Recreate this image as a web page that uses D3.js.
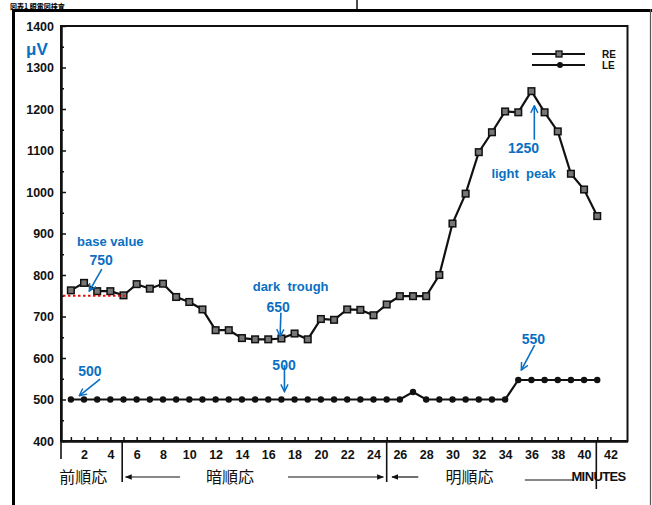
<!DOCTYPE html>
<html lang="ja">
<head>
<meta charset="UTF-8">
<title>EOG light / dark response</title>
<script src="https://cdnjs.cloudflare.com/ajax/libs/d3/7.8.5/d3.min.js"></script>
<style>
    body { margin: 0; background: #fff; }
    svg { display: block; }
    .tick text { font-family: "Liberation Sans Narrow", "Arial Narrow", Arial, sans-serif; font-weight: bold; font-size: 12.5px; fill: #111; }
    .note { font-family: "Liberation Sans", Arial, sans-serif; font-weight: bold; fill: #0a6fc2; }
    .phase { font-family: "Noto Sans CJK JP", sans-serif; font-size: 16px; fill: #111; }
    .legend { font-family: "Liberation Sans Narrow", Arial, sans-serif; font-weight: bold; font-size: 10px; fill: #111; }
</style>
</head>
<body>
<div id="chart"></div>
<script>
// data (minutes 1..41, microvolts)
const minutes = d3.range(1, 42);
const reValues = [763, 781, 761, 761, 751, 778, 767, 779, 747, 735,
                  717, 667, 667, 648, 645, 645, 647, 659, 645, 694,
                  692, 717, 716, 703, 729, 749, 749, 749, 800, 924,
                  996, 1096, 1144, 1194, 1192, 1243, 1192, 1146, 1044, 1006, 942];
const leValues = [500, 500, 500, 500, 500, 500, 500, 500, 500, 500,
                  500, 500, 500, 500, 500, 500, 500, 500, 500, 500,
                  500, 500, 500, 500, 500, 500, 518, 500, 500, 500,
                  500, 500, 500, 500, 547, 547, 547, 547, 547, 547, 547];
const yTicks = d3.range(400, 1401, 100);
const yMinorTicks = d3.range(450, 1400, 100);
const xTickLabels = d3.range(2, 43, 2);
const seriesNames = ["RE", "LE"];

// blue notes: [text, minute, value, size]
const notes = [
    ["base value", 4.0, 869, 13],
    ["750", 3.3, 823, 14],
    ["500", 2.45, 556, 14],
    ["dark  trough", 17.7, 761, 13],
    ["650", 16.75, 710, 14],
    ["500", 17.2, 571, 14],
    ["550", 36.15, 633, 14],
    ["1250", 35.4, 1093, 14],
    ["light  peak", 35.4, 1033, 13]
];
const noteArrows = [
    [[3.35, 814], [2.4, 761]],
    [[3.22, 549], [1.64, 509]],
    [[16.96, 709], [16.9, 652]],
    [[17.23, 583], [17.23, 519]],
    [[36.24, 631], [35.23, 571]],
    [[36.22, 1126], [36.22, 1208]]
];
const baseLine = { from: 0.4, to: 5.1, value: 750 };

// phases below the axis
const phaseLabels = [["前順応", 1.95], ["暗順応", 13.1], ["明順応", 31.3]];
const phaseDividers = [4.9, 25.0, 40.93];
const phaseArrows = [[9.3, 5.15], [17.5, 24.75], [27.4, 25.4], [39.2, 35.5]];

const width = 652, height = 505;
const svg = d3.select("#chart").append("svg")
    .attr("width", width)
    .attr("height", height);

const x = d3.scaleLinear().domain([0.25, 43.3]).range([61, 627.5]);
const y = d3.scaleLinear().domain([400, 1400]).range([441, 26]);

// page frame (scanned sheet)
svg.append("text")
    .attr("x", 10).attr("y", 8.5)
    .attr("font-family", "Noto Sans CJK JP").attr("font-weight", "bold").attr("font-size", 7)
    .text("図表1  眼電図検査");
svg.append("line").attr("x1", 357).attr("x2", 357).attr("y1", 0).attr("y2", 9)
    .attr("stroke", "#111").attr("stroke-width", 1.5);
svg.append("line").attr("x1", 12).attr("x2", 652).attr("y1", 10.5).attr("y2", 10.5)
    .attr("stroke", "#000").attr("stroke-width", 3);
svg.append("line").attr("x1", 13.5).attr("x2", 13.5).attr("y1", 9).attr("y2", 505)
    .attr("stroke", "#000").attr("stroke-width", 3);
svg.append("line").attr("x1", 650.5).attr("x2", 650.5).attr("y1", 9).attr("y2", 505)
    .attr("stroke", "#555").attr("stroke-width", 1.2);

// plot frame
svg.append("rect")
    .attr("x", x.range()[0]).attr("y", y.range()[1])
    .attr("width", x.range()[1] - x.range()[0])
    .attr("height", y.range()[0] - y.range()[1])
    .attr("fill", "none").attr("stroke", "#111").attr("stroke-width", 2);

// y axis
svg.append("g")
    .attr("transform", `translate(${x.range()[0]},0)`)
    .call(d3.axisLeft(y).tickValues(yTicks).tickFormat(d3.format("d"))
        .tickSizeInner(-5).tickSizeOuter(0).tickPadding(7));
svg.append("g")
    .attr("transform", `translate(${x.range()[0]},0)`)
    .call(d3.axisLeft(y).tickValues(yMinorTicks).tickSizeInner(-3).tickSizeOuter(0).tickFormat(""));

// x axis
svg.append("g")
    .attr("transform", `translate(0,${y.range()[0]})`)
    .call(d3.axisBottom(x).tickValues(d3.range(1, 43)).tickSizeInner(-4).tickSizeOuter(0).tickFormat(""));
svg.append("g")
    .attr("transform", `translate(0,${y.range()[0]})`)
    .call(d3.axisBottom(x).tickValues(xTickLabels).tickSize(0).tickPadding(9).tickFormat(d3.format("d")));

svg.selectAll(".domain").attr("stroke", "#111").attr("stroke-width", 2);
svg.selectAll(".tick line").attr("stroke", "#111").attr("stroke-width", 1.5);

// white box behind the peak note
svg.append("rect")
    .attr("x", x(32.2)).attr("y", y(1100))
    .attr("width", x(38.75) - x(32.2)).attr("height", y(1047) - y(1100))
    .attr("fill", "#fff");

const line = d3.line().x((d, i) => x(minutes[i])).y(d => y(d));

svg.append("path").datum(leValues)
    .attr("d", line).attr("fill", "none").attr("stroke", "#111").attr("stroke-width", 2.2);
svg.append("path").datum(reValues)
    .attr("d", line).attr("fill", "none").attr("stroke", "#111").attr("stroke-width", 2.2);

svg.selectAll(".le-dot").data(leValues).join("circle")
    .attr("class", "le-dot")
    .attr("cx", (d, i) => x(minutes[i])).attr("cy", d => y(d))
    .attr("r", 3.2).attr("fill", "#111");

svg.selectAll(".re-sq").data(reValues).join("rect")
    .attr("class", "re-sq")
    .attr("x", (d, i) => x(minutes[i]) - 3.3).attr("y", d => y(d) - 3.3)
    .attr("width", 6.6).attr("height", 6.6)
    .attr("fill", "#777").attr("stroke", "#111").attr("stroke-width", 1.5);

// legend
const legend = svg.append("g");
seriesNames.forEach((name, i) => {
    const ly = 54 + i * 11;
    legend.append("line").attr("x1", 532).attr("x2", 585).attr("y1", ly).attr("y2", ly)
        .attr("stroke", "#111").attr("stroke-width", 1.8);
    if (i === 0) {
        legend.append("rect").attr("x", 556).attr("y", ly - 3).attr("width", 6).attr("height", 6)
            .attr("fill", "#777").attr("stroke", "#111").attr("stroke-width", 1.3);
    } else {
        legend.append("circle").attr("cx", 560).attr("cy", ly).attr("r", 3).attr("fill", "#111");
    }
    legend.append("text").attr("class", "legend").attr("x", 602).attr("y", ly + 4).text(name);
});

// unit
svg.append("text").attr("class", "note")
    .attr("x", 26).attr("y", 55).attr("font-size", 17)
    .text("μV");

// blue notes
const blue = "#0a6fc2";
const defs = svg.append("defs");
defs.append("marker")
    .attr("id", "blueHead").attr("viewBox", "0 0 10 10")
    .attr("refX", 9).attr("refY", 5)
    .attr("markerWidth", 9).attr("markerHeight", 9)
    .attr("markerUnits", "userSpaceOnUse")
    .attr("orient", "auto")
    .append("path").attr("d", "M1,1 L9,5 L1,9")
    .attr("fill", "none").attr("stroke", blue).attr("stroke-width", 1.6);
defs.append("marker")
    .attr("id", "blackHead").attr("viewBox", "0 0 10 10")
    .attr("refX", 9).attr("refY", 5)
    .attr("markerWidth", 7).attr("markerHeight", 7)
    .attr("markerUnits", "userSpaceOnUse")
    .attr("orient", "auto")
    .append("path").attr("d", "M0,1 L10,5 L0,9 Z").attr("fill", "#111");

svg.append("line")
    .attr("x1", x(baseLine.from)).attr("x2", x(baseLine.to))
    .attr("y1", y(baseLine.value)).attr("y2", y(baseLine.value))
    .attr("stroke", "#e01010").attr("stroke-width", 2.2).attr("stroke-dasharray", "2.5,2.5");

svg.selectAll(".note-text").data(notes).join("text")
    .attr("class", "note note-text")
    .attr("x", d => x(d[1])).attr("y", d => y(d[2]))
    .attr("text-anchor", "middle")
    .attr("font-size", d => d[3])
    .style("white-space", "pre")
    .text(d => d[0]);

svg.selectAll(".note-arrow").data(noteArrows).join("line")
    .attr("class", "note-arrow")
    .attr("x1", d => x(d[0][0])).attr("y1", d => y(d[0][1]))
    .attr("x2", d => x(d[1][0])).attr("y2", d => y(d[1][1]))
    .attr("stroke", blue).attr("stroke-width", 1.6)
    .attr("marker-end", "url(#blueHead)");

// phases under the axis
const axisY = y.range()[0];
svg.append("line")
    .attr("x1", x.range()[0]).attr("x2", x.range()[0])
    .attr("y1", axisY).attr("y2", axisY + 18)
    .attr("stroke", "#111").attr("stroke-width", 1.6);
phaseDividers.forEach((m, i) => {
    svg.append("line")
        .attr("x1", x(m)).attr("x2", x(m))
        .attr("y1", axisY).attr("y2", i === 2 ? axisY + 48 : axisY + 41)
        .attr("stroke", "#111").attr("stroke-width", 1.6);
});
svg.selectAll(".phase").data(phaseLabels).join("text")
    .attr("class", "phase")
    .attr("x", d => x(d[1])).attr("y", axisY + 42)
    .attr("text-anchor", "middle")
    .text(d => d[0]);
phaseArrows.forEach(([m1, m2], i) => {
    const yy = axisY + (i === 3 ? 39 : 36);
    const ln = svg.append("line")
        .attr("x1", x(m1)).attr("x2", x(m2))
        .attr("y1", yy).attr("y2", yy)
        .attr("stroke", "#111").attr("stroke-width", 1.2);
    if (i < 3) ln.attr("marker-end", "url(#blackHead)");
});
svg.append("text")
    .attr("x", x(41.1)).attr("y", axisY + 40)
    .attr("text-anchor", "middle")
    .attr("font-family", "Liberation Sans Narrow, Arial Narrow, sans-serif")
    .attr("font-weight", "bold").attr("font-size", 13).attr("letter-spacing", -0.6)
    .attr("fill", "#111")
    .text("MINUTES");
</script>
</body>
</html>
